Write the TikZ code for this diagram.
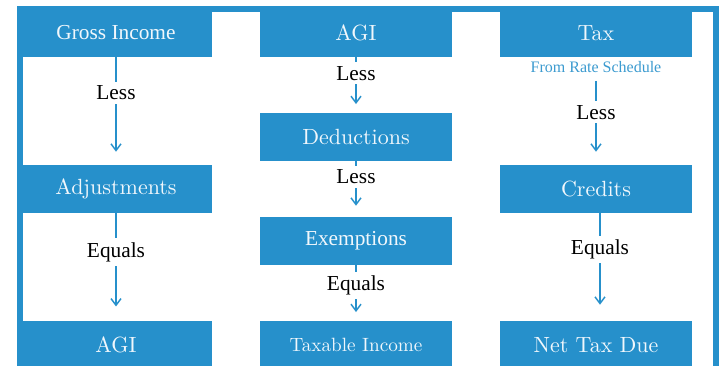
\documentclass[tikz,border=0pt]{standalone}
\usepackage{fontspec}
\usetikzlibrary{arrows.meta}
\newfontfamily\timesfont{Liberation Serif}
\newfontfamily\cmfont{lmroman10-regular}[Extension=.otf]
\definecolor{taxblue}{HTML}{2690CB}
\definecolor{boxtext}{HTML}{F0F7FC}
\tikzset{
  taxbox/.style={fill=taxblue, text=boxtext, minimum width=144pt, minimum height=36pt,
    inner sep=0pt, font=\cmfont\fontsize{16.5}{19}\selectfont},
  lbl/.style={fill=white, text=black, inner sep=3pt, font=\timesfont\fontsize{16}{18}\selectfont},
  flow/.style={draw=taxblue, line width=1.1pt, -{Straight Barb[length=5pt,width=7.5pt]}},
}
\begin{document}
\begin{tikzpicture}[x=0.75pt, y=-0.75pt]
    \useasboundingbox (0,0) rectangle (719,365);
    \clip (0,0) rectangle (719,365);
    % frame
    \fill[taxblue] (17,6) rectangle (719,370);
    \fill[white] (23,12) rectangle (713,370);
    % income column
    \node[taxbox, font=\timesfont\fontsize{16}{18}\selectfont] at (116,33) (gross) {Gross Income};
    \node[taxbox] at (116,189) (adj) {Adjustments};
    \node[taxbox] at (116,345) (agi) {AGI};
    % deduction column
    \node[taxbox] at (356,33) (agitop) {AGI};
    \node[taxbox] at (356,137) (ded) {Deductions};
    \node[taxbox, font=\timesfont\fontsize{16}{18}\selectfont] at (356,241) (exm) {Exemptions};
    \node[taxbox, font=\cmfont\fontsize{14.4}{17}\selectfont] at (356,345) (taxinc) {Taxable Income};
    % tax column
    \node[taxbox] at (596,33) (tax) {Tax};
    \node[inner sep=0pt, text=taxblue!90!white, font=\timesfont\fontsize{12}{14}\selectfont] at (596,67) (sched) {From Rate Schedule};
    \node[taxbox] at (596,189) (cred) {Credits};
    \node[taxbox] at (596,345) (net) {Net Tax Due};

    % income connections
    \path[flow, shorten >= 9.75pt] (gross) edge node[lbl, pos=.33] {Less} (adj);
    \path[flow, shorten >= 10.7pt] (adj) edge node[lbl, pos=.36] {Equals} (agi);
    % deduction connections
    \path[flow, shorten >= 6.5pt] (agitop) edge node[lbl, pos=.29] {Less} (ded);
    \path[flow, shorten >= 8.25pt] (ded) edge node[lbl, pos=.28] {Less} (exm);
    \path[flow, shorten >= 6.5pt] (exm) edge node[lbl, pos=.36] {Equals} (taxinc);
    % tax connections
    \path[flow, shorten <= 6pt, shorten >= 9.75pt] (sched) edge node[lbl, pos=.43] {Less} (cred);
    \draw[flow, shorten >= 12pt] ([xshift=3pt]cred.south) -- node[lbl, pos=.34] {Equals} ([xshift=3pt]net.north);
\end{tikzpicture}
\end{document}
